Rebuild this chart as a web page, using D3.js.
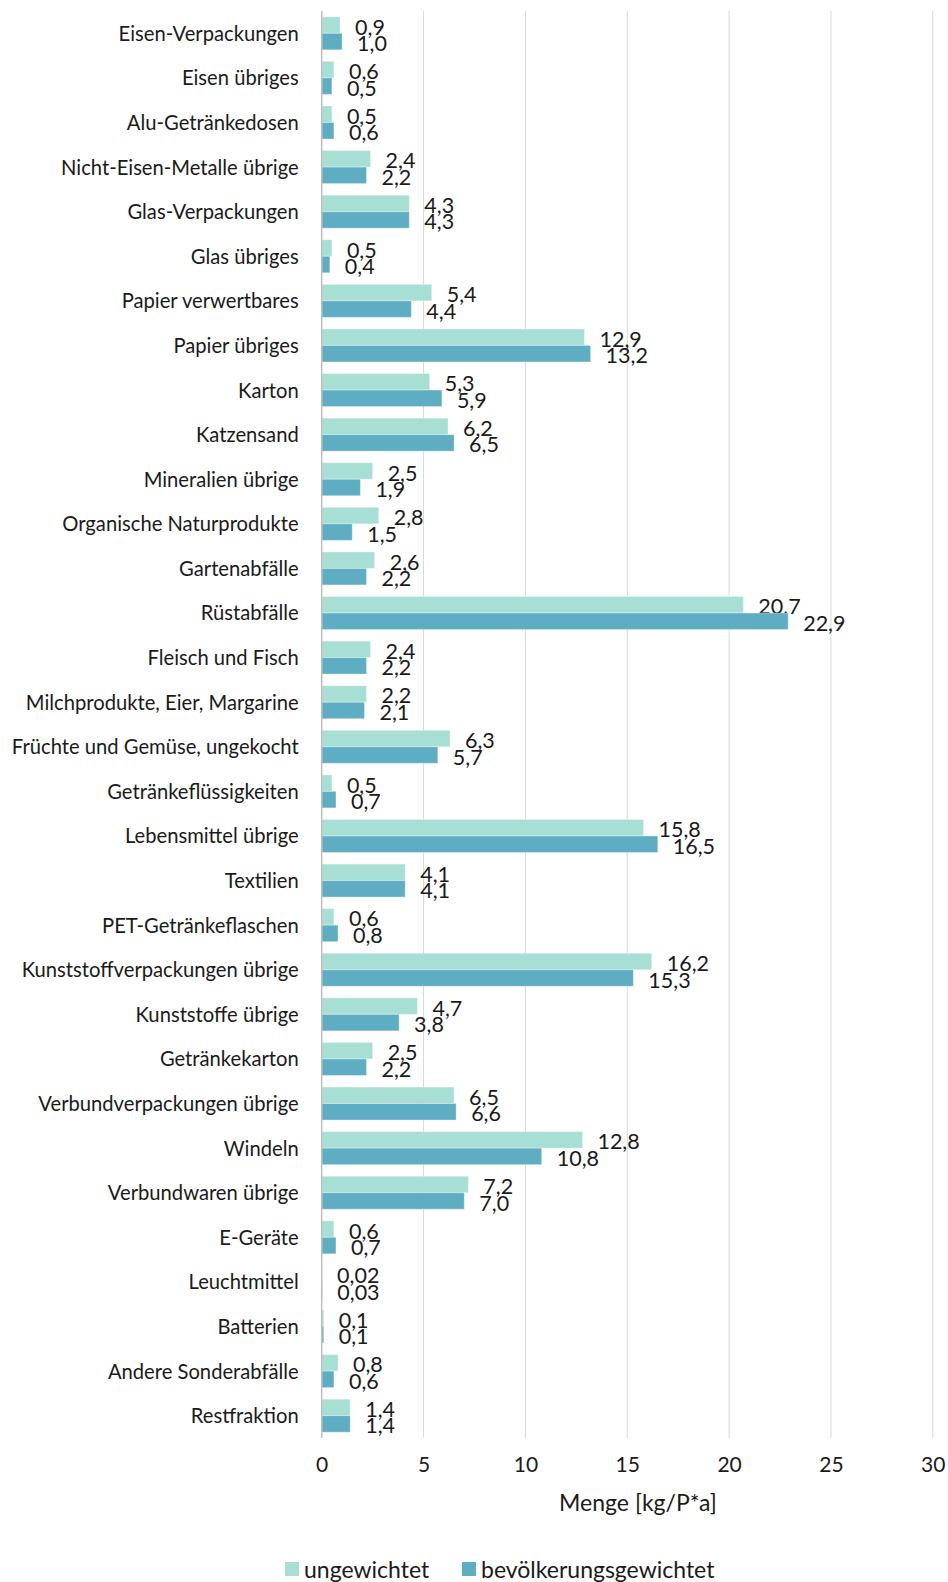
<!DOCTYPE html>
<html>
<head>
<meta charset="utf-8">
<script src="https://cdn.jsdelivr.net/npm/d3@7"></script>
<style>
  html, body { margin: 0; padding: 0; background: #ffffff; }
  svg { display: block; }
  text { font-family: Lato, "Open Sans", sans-serif; fill: #1a1a1a; }
</style>
</head>
<body>
<svg id="chart" width="948" height="1582"></svg>
<script>
// Abfallfraktionen (kg pro Person und Jahr)
const categories = [
  "Eisen-Verpackungen", "Eisen übriges", "Alu-Getränkedosen", "Nicht-Eisen-Metalle übrige",
  "Glas-Verpackungen", "Glas übriges", "Papier verwertbares", "Papier übriges", "Karton",
  "Katzensand", "Mineralien übrige", "Organische Naturprodukte", "Gartenabfälle", "Rüstabfälle",
  "Fleisch und Fisch", "Milchprodukte, Eier, Margarine", "Früchte und Gemüse, ungekocht",
  "Getränkeflüssigkeiten", "Lebensmittel übrige", "Textilien", "PET-Getränkeflaschen",
  "Kunststoffverpackungen übrige", "Kunststoffe übrige", "Getränkekarton",
  "Verbundverpackungen übrige", "Windeln", "Verbundwaren übrige", "E-Geräte", "Leuchtmittel",
  "Batterien", "Andere Sonderabfälle", "Restfraktion"
];
const ungewichtet = [
  0.9, 0.6, 0.5, 2.4, 4.3, 0.5, 5.4, 12.9, 5.3, 6.2, 2.5, 2.8, 2.6, 20.7, 2.4, 2.2,
  6.3, 0.5, 15.8, 4.1, 0.6, 16.2, 4.7, 2.5, 6.5, 12.8, 7.2, 0.6, 0.02, 0.1, 0.8, 1.4
];
const bevoelkerungsgewichtet = [
  1.0, 0.5, 0.6, 2.2, 4.3, 0.4, 4.4, 13.2, 5.9, 6.5, 1.9, 1.5, 2.2, 22.9, 2.2, 2.1,
  5.7, 0.7, 16.5, 4.1, 0.8, 15.3, 3.8, 2.2, 6.6, 10.8, 7.0, 0.7, 0.03, 0.1, 0.6, 1.4
];
const xTicks = [0, 5, 10, 15, 20, 25, 30];
const seriesNames = ["ungewichtet", "bevölkerungsgewichtet"];
const seriesColors = ["#a7dfd5", "#5eadc2"];

const svg = d3.select("#chart");
const plotLeft = 321.7, plotRight = 932.8, plotTop = 11, plotBottom = 1438;

const x = d3.scaleLinear().domain([0, 30]).range([plotLeft, plotRight]);
const y = d3.scaleBand().domain(categories).range([plotTop, plotBottom]).paddingInner(0.26).paddingOuter(0.13);
const ySub = d3.scaleBand().domain([0, 1]).range([0, y.bandwidth()]);

const fmt = v => (v < 0.1 ? v.toFixed(2) : v.toFixed(1)).replace(".", ",");

// vertical gridlines
svg.append("g")
  .selectAll("line")
  .data(xTicks.slice(1))
  .join("line")
  .attr("x1", d => x(d)).attr("x2", d => x(d))
  .attr("y1", plotTop).attr("y2", plotBottom)
  .attr("stroke", "#d9d9d9").attr("stroke-width", 1);

// x axis tick labels
const xAxis = d3.axisBottom(x).tickValues(xTicks).tickSize(0).tickPadding(0).tickFormat(d3.format("d"));
const gx = svg.append("g").attr("transform", `translate(0,${plotBottom + 19})`).call(xAxis);
gx.select(".domain").remove();
gx.selectAll("text").attr("font-size", 21).attr("font-family", "Lato, sans-serif").attr("fill", "#1a1a1a").attr("dy", "0.71em");

// bars
const series = [ungewichtet, bevoelkerungsgewichtet];
series.forEach((vals, si) => {
  const g = svg.append("g");
  g.selectAll("rect")
    .data(categories)
    .join("rect")
    .attr("x", x(0))
    .attr("y", (c) => y(c) + ySub(si))
    .attr("width", (c, i) => x(vals[i]) - x(0))
    .attr("height", ySub.bandwidth())
    .attr("fill", seriesColors[si])
    .attr("stroke", "#ffffff").attr("stroke-opacity", 0.35).attr("stroke-width", 1);
  g.selectAll("text")
    .data(categories)
    .join("text")
    .attr("x", (c, i) => x(vals[i]) + 15)
    .attr("y", (c) => y(c) + ySub(si) + ySub.bandwidth() / 2 + 2)
    .attr("dy", "0.35em")
    .attr("font-size", 21.5)
    .text((c, i) => fmt(vals[i]));
});

// category axis line
svg.append("line")
  .attr("x1", x(0)).attr("x2", x(0)).attr("y1", plotTop).attr("y2", plotBottom)
  .attr("stroke", "#bfbfbf").attr("stroke-width", 1.5);

// category labels
const yAxis = d3.axisLeft(y).tickSize(0).tickPadding(0);
const gy = svg.append("g").attr("transform", `translate(${plotLeft - 23},1)`).call(yAxis);
gy.select(".domain").remove();
gy.selectAll("text").attr("font-size", 20.2).attr("font-family", "Lato, sans-serif").attr("fill", "#1a1a1a");

// axis title
svg.append("text")
  .attr("x", 638).attr("y", 1503).attr("dy", "0.35em")
  .attr("text-anchor", "middle").attr("font-size", 23)
  .text("Menge [kg/P*a]");

// legend
const legendItems = [
  { name: seriesNames[0], color: seriesColors[0], x: 285 },
  { name: seriesNames[1], color: seriesColors[1], x: 462 }
];
const lg = svg.append("g");
legendItems.forEach(it => {
  lg.append("rect").attr("x", it.x).attr("y", 1562).attr("width", 14).attr("height", 14).attr("fill", it.color);
  lg.append("text").attr("x", it.x + 19).attr("y", 1570).attr("dy", "0.35em").attr("font-size", 23).text(it.name);
});
</script>
</body>
</html>
